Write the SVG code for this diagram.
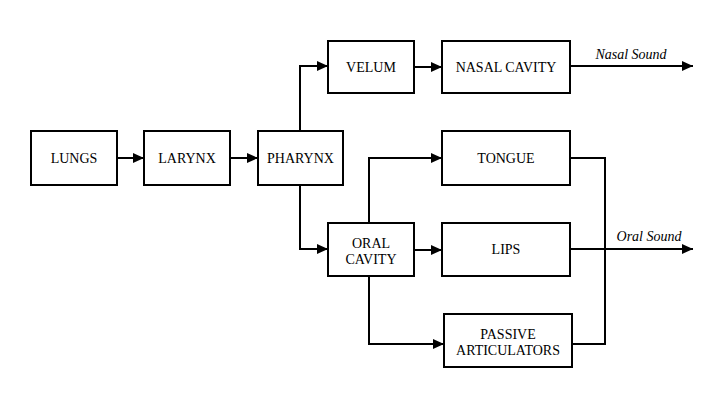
<svg xmlns="http://www.w3.org/2000/svg" width="720" height="405" viewBox="0 0 720 405">
<style>
.box{fill:#fff;stroke:#000;stroke-width:2}
.c{fill:none;stroke:#000;stroke-width:2}
.a{marker-end:url(#ah)}
</style>
<defs>
<marker id="ah" markerUnits="userSpaceOnUse" markerWidth="12" markerHeight="10" refX="11" refY="5" orient="auto">
<path d="M0,0 L11,5 L0,10 Z" fill="#000"/>
</marker>
</defs>
<rect width="720" height="405" fill="#fff"/>
<g id="connectors">
<path class="c a" d="M117 158 H144"/>
<path class="c a" d="M230 158 H258"/>
<path class="c a" d="M300 131 V66 H328"/>
<path class="c a" d="M300 185 V249 H328"/>
<path class="c a" d="M414 67 H442"/>
<path class="c a" d="M570 66 H693"/>
<path class="c a" d="M369 223 V158 H442"/>
<path class="c a" d="M414 250 H442"/>
<path class="c a" d="M369 276 V344 H444"/>
<path class="c" d="M570 158 H605 V344 H572"/>
<path class="c a" d="M570 249 H693"/>
<text x="631" y="59" font-family="Liberation Serif" font-size="14" font-style="italic" text-anchor="middle">Nasal Sound</text>
<text x="649" y="241" font-family="Liberation Serif" font-size="14" font-style="italic" text-anchor="middle">Oral Sound</text>
</g>
<g id="lungs"><rect class="box" x="31" y="131" width="86" height="54"/><text x="74" y="163" font-family="Liberation Serif" font-size="14" text-anchor="middle">LUNGS</text></g>
<g id="larynx"><rect class="box" x="144" y="131" width="86" height="54"/><text x="187" y="163" font-family="Liberation Serif" font-size="14" text-anchor="middle">LARYNX</text></g>
<g id="pharynx"><rect class="box" x="258" y="131" width="85" height="54"/><text x="300.5" y="163" font-family="Liberation Serif" font-size="14" text-anchor="middle">PHARYNX</text></g>
<g id="velum"><rect class="box" x="328" y="41" width="86" height="52"/><text x="371" y="72" font-family="Liberation Serif" font-size="14" text-anchor="middle">VELUM</text></g>
<g id="nasal-cavity"><rect class="box" x="442" y="41" width="128" height="52"/><text x="506" y="72" font-family="Liberation Serif" font-size="14" text-anchor="middle">NASAL CAVITY</text></g>
<g id="tongue"><rect class="box" x="442" y="131" width="128" height="54"/><text x="506" y="163" font-family="Liberation Serif" font-size="14" text-anchor="middle">TONGUE</text></g>
<g id="oral-cavity"><rect class="box" x="328" y="223" width="86" height="53"/><text x="371" y="248" font-family="Liberation Serif" font-size="14" text-anchor="middle">ORAL</text><text x="371" y="264" font-family="Liberation Serif" font-size="14" text-anchor="middle">CAVITY</text></g>
<g id="lips"><rect class="box" x="442" y="223" width="128" height="53"/><text x="506" y="254" font-family="Liberation Serif" font-size="14" text-anchor="middle">LIPS</text></g>
<g id="passive-articulators"><rect class="box" x="444" y="314" width="128" height="53"/><text x="508" y="339" font-family="Liberation Serif" font-size="14" text-anchor="middle">PASSIVE</text><text x="508" y="355" font-family="Liberation Serif" font-size="14" text-anchor="middle">ARTICULATORS</text></g>
</svg>
